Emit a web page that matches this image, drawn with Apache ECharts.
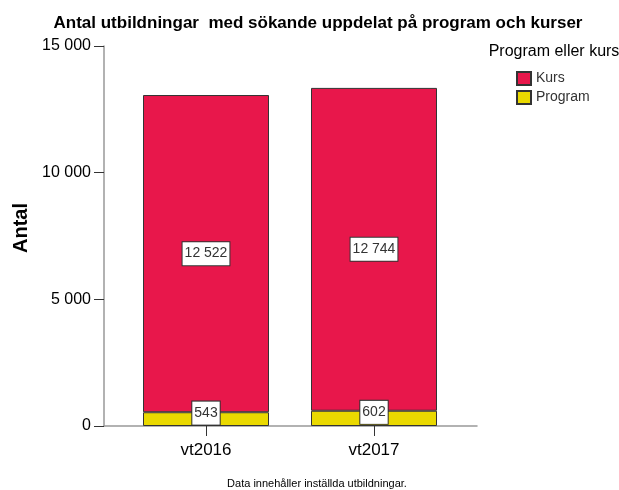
<!DOCTYPE html>
<html>
<head>
    <meta charset="utf-8">
    <title>Antal utbildningar</title>
    <script src="https://cdn.jsdelivr.net/npm/echarts@6/dist/echarts.min.js"></script>
    <style>
        html, body { margin: 0; padding: 0; background: #fff; }
        #main { width: 619px; height: 490px; }
    </style>
</head>
<body>
<div id="main"></div>
<script type="text/javascript">
    // data
    var categories = ['vt2016', 'vt2017'];
    var programValues = [543, 602];
    var kursValues = [12522, 12744];
    var yTicks = [0, 5000, 10000, 15000];

    var FONT = '"Liberation Sans", Arial, sans-serif';

    function fmt(v) {
        return String(v).replace(/\B(?=(\d{3})+(?!\d))/g, ' ');
    }

    var labelBox = {
        show: true,
        position: 'inside',
        color: '#333',
        fontFamily: FONT,
        fontSize: 14,
        backgroundColor: '#fff',
        borderColor: '#333',
        borderWidth: 1,
        padding: [5, 2, 4, 2],
        formatter: function (p) { return fmt(p.value); }
    };

    var myChart = echarts.init(document.getElementById('main'));

    var option = {
        animation: false,
        textStyle: { fontFamily: FONT },
        title: [
            {
                text: 'Antal utbildningar  med sökande uppdelat på program och kurser',
                left: 313, top: 10, textAlign: 'center',
                textStyle: { fontFamily: FONT, fontSize: 17, fontWeight: 'bold', color: '#000' }
            },
            {
                text: 'Program eller kurs',
                left: 549, top: 39, textAlign: 'center',
                textStyle: { fontFamily: FONT, fontSize: 16, fontWeight: 'normal', color: '#000' }
            },
            {
                text: 'Data innehåller inställda utbildningar.',
                left: 312, top: 473, textAlign: 'center',
                textStyle: { fontFamily: FONT, fontSize: 11, fontWeight: 'normal', color: '#000' }
            }
        ],
        legend: {
            orient: 'vertical',
            left: 511, top: 66,
            itemWidth: 14, itemHeight: 13, itemGap: 4,
            icon: 'rect',
            textStyle: { fontFamily: FONT, fontSize: 14, color: '#333' },
            data: ['Kurs', 'Program']
        },
        grid: [
            { left: 122, width: 336, top: 46, height: 380 },
            { left: 104, width: 373, top: 46, height: 380 }
        ],
        xAxis: [
            {
                type: 'category', gridIndex: 0, data: categories,
                axisLine: { show: false },
                axisTick: { show: true, alignWithLabel: true, length: 10, lineStyle: { color: '#333' } },
                axisLabel: { fontFamily: FONT, fontSize: 17, color: '#000', margin: 16 }
            },
            {
                type: 'value', gridIndex: 1, min: 0, max: 1,
                axisLine: { show: true, onZero: false, lineStyle: { color: '#999', width: 1.5 } },
                axisTick: { show: false }, axisLabel: { show: false }, splitLine: { show: false }
            }
        ],
        yAxis: [
            { type: 'value', gridIndex: 0, min: 0, max: 15000, show: false },
            {
                type: 'value', gridIndex: 1, min: 0, max: 15000, interval: 5000,
                name: 'Antal', nameLocation: 'middle', nameGap: 73,
                nameTextStyle: {
                    fontFamily: FONT, fontSize: 20, fontWeight: 'bold', color: '#000',
                    padding: [0, 0, 0, 16]
                },
                axisLine: { show: true, lineStyle: { color: '#999', width: 1.5 } },
                axisTick: { show: true, length: 10, lineStyle: { color: '#333' } },
                axisLabel: {
                    fontFamily: FONT, fontSize: 16, color: '#000', margin: 13,
                    formatter: function (v) { return yTicks.indexOf(v) >= 0 ? fmt(v) : ''; }
                },
                splitLine: { show: false }
            }
        ],
        series: [
            {
                name: 'Program', type: 'bar', stack: 'total',
                xAxisIndex: 0, yAxisIndex: 0,
                barWidth: '75%',
                itemStyle: { color: '#EAD900', borderColor: '#333', borderWidth: 1 },
                label: Object.assign({}, labelBox, { offset: [0, -6] }),
                data: programValues
            },
            {
                name: 'Kurs', type: 'bar', stack: 'total',
                xAxisIndex: 0, yAxisIndex: 0,
                barWidth: '75%',
                itemStyle: { color: '#E8174B', borderColor: '#333', borderWidth: 1 },
                label: labelBox,
                data: kursValues
            }
        ]
    };
    myChart.setOption(option);
</script>
</body>
</html>
